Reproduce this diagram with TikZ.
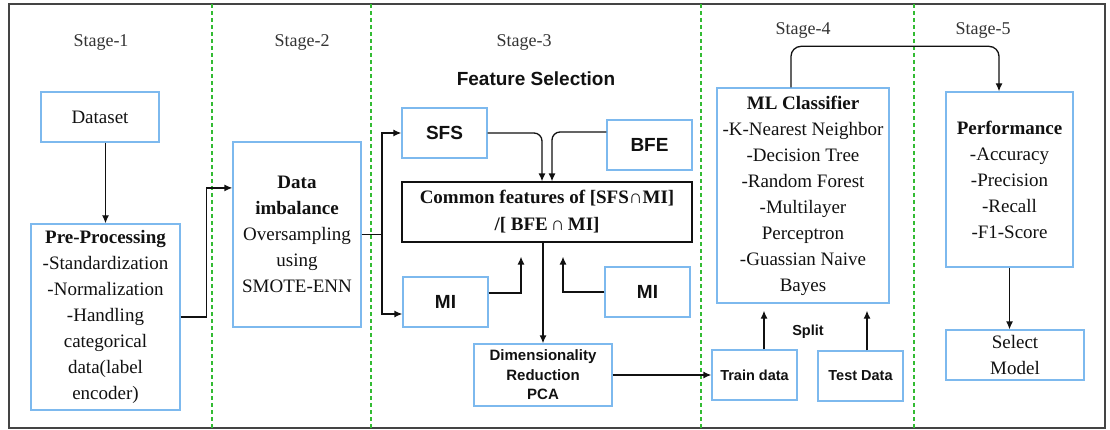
\documentclass[tikz,border=0pt]{standalone}
\usepackage{fontspec}
\setmainfont{Liberation Serif}
\setsansfont{Liberation Sans}
\usetikzlibrary{arrows.meta,positioning,calc}
\definecolor{ink}{HTML}{111111}
\definecolor{frame}{HTML}{444444}
\definecolor{skyline}{HTML}{7DB9EE}
\definecolor{divgreen}{HTML}{33BB33}
\definecolor{stagegray}{HTML}{333333}
\tikzset{box/.style={draw=skyline,line width=1.3pt,align=center,inner sep=2pt,text=ink,font=\fontsize{19}{26}\selectfont},sansbox/.style={box,font=\sffamily\bfseries\fontsize{19}{23}\selectfont},plainbox/.style={box,draw=ink,line width=1.2pt},flow/.style={-{Latex[length=8pt,width=7pt]},line width=1.3pt,draw=ink},divider/.style={draw=divgreen,line width=1.2pt,dash pattern=on 4pt off 3pt},stagelabel/.style={font=\fontsize{18}{22}\selectfont,text=stagegray},headlabel/.style={font=\sffamily\bfseries\fontsize{19}{23}\selectfont,text=ink}}

\begin{document}
\begin{tikzpicture}[x=1pt,y=-1pt]
\useasboundingbox (0,0) rectangle (1110,430);
\draw[frame,line width=1.6pt] (9,4) rectangle (1105,428);
\draw[divider] (212,4)--(212,428);\draw[divider] (371,4)--(371,428);
\draw[divider] (701,4)--(701,428);\draw[divider] (914,4)--(914,428);
\node[stagelabel] (st1) at (101,42) {Stage-1};
\node[stagelabel] (st2) at (302,42) {Stage-2};
\node[stagelabel] (st3) at (524,42) {Stage-3};
\node[stagelabel] (st4) at (803,30) {Stage-4};
\node[stagelabel] (st5) at (983,30) {Stage-5};
\node[headlabel] (fsel) at (536,79) {Feature Selection};
\node[box,minimum width=118pt,minimum height=50pt] (dataset) at (100,117) {Dataset};
\node[box,minimum width=149pt,minimum height=186pt] (prep) at (105.5,317) {\textbf{Pre-Processing}\\-Standardization\\-Normalization\\-Handling\\categorical\\data(label\\encoder)};
\node[box,minimum width=128pt,minimum height=185pt] (imbal) at (297,234.5) {\textbf{Data}\\\textbf{imbalance}\\Oversampling\\using\\SMOTE-ENN};
\node[sansbox,minimum width=85pt,minimum height=50pt] (sfs) at (444.5,133) {SFS};
\node[sansbox,minimum width=85pt,minimum height=50pt] (bfe) at (649.5,145) {BFE};
\node[plainbox,font=\bfseries\fontsize{19}{27}\selectfont,minimum width=290pt,minimum height=60pt] (common) at (547,212) {Common features of [SFS∩MI]\\/[ BFE\,∩\,MI]};
\node[sansbox,minimum width=85pt,minimum height=50pt] (mileft) at (445.5,302) {MI};
\node[sansbox,minimum width=85pt,minimum height=50pt] (miright) at (647.5,292) {MI};
\node[sansbox,font=\sffamily\bfseries\fontsize{15}{19.5}\selectfont,minimum width=138pt,minimum height=62pt] (dimred) at (543,375) {Dimensionality\\Reduction\\PCA};
\node[box,minimum width=172pt,minimum height=215pt] (mlc) at (803,195.5) {\textbf{ML Classifier}\\-K-Nearest Neighbor\\-Decision Tree\\-Random Forest\\-Multilayer\\Perceptron\\-Guassian Naive\\Bayes};
\node[sansbox,font=\sffamily\bfseries\fontsize{14.5}{18}\selectfont,minimum width=85pt,minimum height=50pt] (train) at (754.5,375) {Train data};
\node[sansbox,font=\sffamily\bfseries\fontsize{14.5}{18}\selectfont,minimum width=85pt,minimum height=50pt] (test) at (860.5,376) {Test Data};
\node[font=\sffamily\bfseries\fontsize{14.5}{18}\selectfont,text=ink] (split) at (808,332) {Split};
\node[box,minimum width=127pt,minimum height=175pt] (perf) at (1009.5,179.5) {\textbf{Performance}\\-Accuracy\\-Precision\\-Recall\\-F1-Score};
\node[box,minimum width=138pt,minimum height=50pt] (select) at (1015,355) {Select\\Model};
\coordinate (fork) at (382,234.5);
\coordinate (inL) at ([xshift=-26pt,yshift=-14pt]common.south);
\coordinate (inR) at ([xshift=16pt,yshift=-14pt]common.south);
\coordinate (trtop) at ([xshift=9.5pt]train.north);
\coordinate (tetop) at ([xshift=6.5pt]test.north);
\draw[flow] (dataset.south -| prep.north)--(prep.north);
\draw[flow] (prep.east)--++(26,0)|-($(imbal.north west)!0.25!(imbal.south west)$);
\draw[line width=1.3pt,draw=ink] (imbal.east)--(fork);
\draw[flow] (fork)|-(sfs.west);\draw[flow] (fork)|-([yshift=-12pt]mileft.west);
\draw[flow,rounded corners=8pt] (sfs.east)-|([xshift=-5pt]common.north);
\draw[flow,rounded corners=8pt] ([yshift=13pt]bfe.west)-|([xshift=5pt]common.north);
\draw[flow] ([yshift=9pt]mileft.east)-|(inL);\draw[flow] (miright.west)-|(inR);
\draw[flow] (common.south -| dimred.north)--(dimred.north);
\draw[flow] (dimred.east)--(train.west);
\draw[flow,shorten >=7pt] (trtop)--(trtop |- mlc.south);
\draw[flow,shorten >=7pt] (tetop)--(tetop |- mlc.south);
\draw[flow,rounded corners=10pt] ([xshift=-12pt]mlc.north)--++(0,-41)-|([xshift=-10.5pt]perf.north);
\draw[flow] (perf.south)--(perf.south |- select.north);
\end{tikzpicture}
\end{document}
